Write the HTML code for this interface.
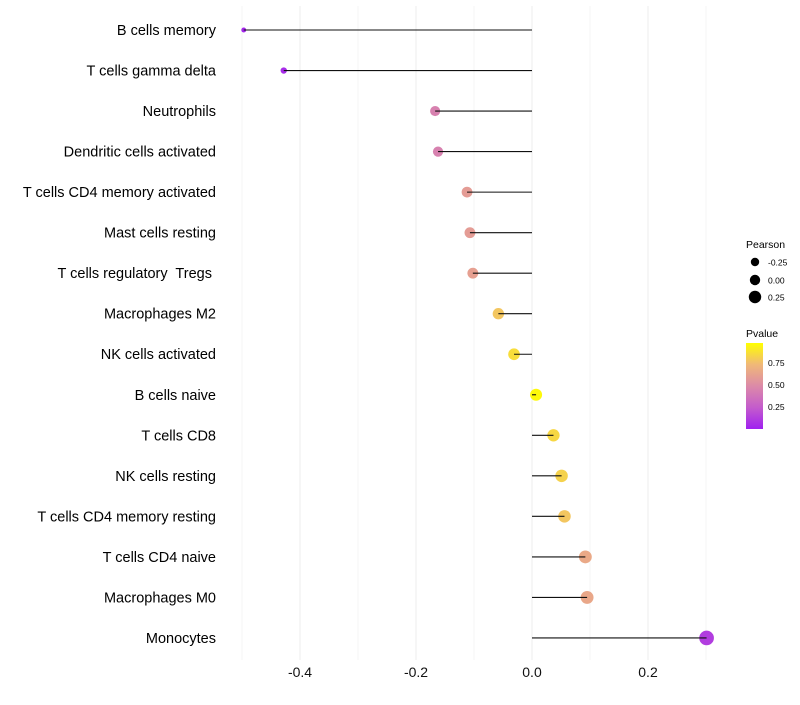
<!DOCTYPE html>
<html><head><meta charset="utf-8"><style>
body{margin:0;background:#fff;font-family:"Liberation Sans",sans-serif}
svg text{font-family:"Liberation Sans",sans-serif;white-space:pre}
</style></head><body>
<svg id="c" width="800" height="700">
<defs><linearGradient id="pg" x1="0" y1="1" x2="0" y2="0">
<stop offset="0" stop-color="#A020F0"/><stop offset="0.25" stop-color="#C45CCC"/>
<stop offset="0.5" stop-color="#DC8AA8"/><stop offset="0.75" stop-color="#F0B878"/>
<stop offset="1" stop-color="#FFFF00"/></linearGradient></defs>
<g id="grid"></g><g id="marks"></g><g id="labels"></g>
<g>
<text x="746" y="248" font-size="10.5" fill="#000">Pearson</text>
<circle cx="755" cy="262" r="4.2" fill="#000"/>
<circle cx="755" cy="280" r="5.2" fill="#000"/>
<circle cx="755" cy="297" r="6.2" fill="#000"/>
<text x="768" y="265.5" font-size="8.5">-0.25</text>
<text x="768" y="283.5" font-size="8.5">0.00</text>
<text x="768" y="300.5" font-size="8.5">0.25</text>
<text x="746" y="337" font-size="10.5" fill="#000">Pvalue</text>
<rect x="746" y="343" width="17" height="86" fill="url(#pg)"/>
<text x="768" y="366" font-size="8.5">0.75</text>
<text x="768" y="388" font-size="8.5">0.50</text>
<text x="768" y="410" font-size="8.5">0.25</text>
</g>
</svg>
<script>
const categories=["B cells memory","T cells gamma delta","Neutrophils","Dendritic cells activated","T cells CD4 memory activated","Mast cells resting","T cells regulatory  Tregs ","Macrophages M2","NK cells activated","B cells naive","T cells CD8","NK cells resting","T cells CD4 memory resting","T cells CD4 naive","Macrophages M0","Monocytes"];
const pearson=[-0.497,-0.428,-0.167,-0.162,-0.112,-0.107,-0.102,-0.058,-0.031,0.007,0.037,0.051,0.056,0.092,0.095,0.301];
const pvalues=[0.03,0.05,0.45,0.45,0.6,0.6,0.62,0.8,0.88,0.98,0.86,0.84,0.8,0.67,0.66,0.12];
const xTicks=[-0.4,-0.2,0,0.2];
const xTickLabels=["-0.4","-0.2","0.0","0.2"];
const minorTicks=[-0.5,-0.3,-0.1,0.1,0.3];
const NS="http://www.w3.org/2000/svg";
const x=v=>532+v*580;
const y=i=>30+i*40.53;
const r=v=>Math.sqrt(Math.max(1,6+60*(v+0.497)));
const stops=[[0,[160,32,240]],[0.25,[196,92,204]],[0.5,[220,138,168]],[0.75,[240,184,120]],[1,[255,255,0]]];
function col(p){for(let k=1;k<stops.length;k++){if(p<=stops[k][0]){const a=stops[k-1],b=stops[k],t=(p-a[0])/(b[0]-a[0]);return "rgb("+a[1].map((c,j)=>Math.round(c+(b[1][j]-c)*t)).join(",")+")";}}return "rgb(255,255,0)";}
function mk(t,a,p){const e=document.createElementNS(NS,t);for(const k in a)e.setAttribute(k,a[k]);p.appendChild(e);return e;}
const grid=document.getElementById('grid'),marks=document.getElementById('marks'),labels=document.getElementById('labels');
minorTicks.forEach(v=>{const l=mk('line',{x1:x(v),x2:x(v),y1:6,y2:660,stroke:'#f5f5f5','stroke-width':1},grid);

});
xTicks.forEach((v,i)=>{const l=mk('line',{x1:x(v),x2:x(v),y1:6,y2:660,stroke:'#ececec','stroke-width':1},grid);


const t=mk('text',{x:x(v),y:677,'font-size':14,'text-anchor':'middle',fill:'#111'},labels);t.textContent=xTickLabels[i];

});
categories.forEach((c,i)=>{const t=mk('text',{x:216,y:y(i)+5,'font-size':14.5,'text-anchor':'end',fill:'#000'},labels);t.textContent=c;


const d=mk('circle',{cx:x(pearson[i]),cy:y(i),r:r(pearson[i]),fill:col(pvalues[i])},marks);


const l=mk('line',{x1:x(0),x2:x(pearson[i]),y1:y(i),y2:y(i),stroke:'#111','stroke-width':1.1},marks);

});
</script>
</body></html>
